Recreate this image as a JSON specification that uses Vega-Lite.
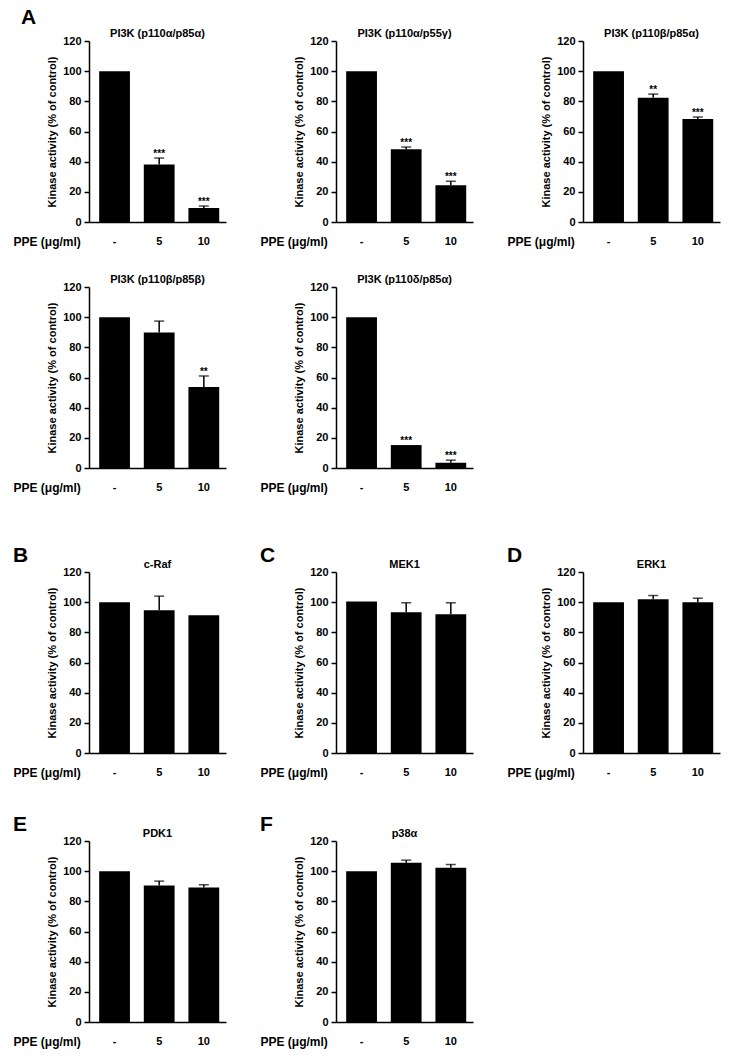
{
"$schema":"https://vega.github.io/schema/vega-lite/v6.json",
"padding":{"left":13,"top":7,"right":5,"bottom":5},
"data":{"values":[
{"panel":"A1","dose":"-","value":100,"upper":100,"sig":""},
{"panel":"A1","dose":"5","value":38.2,"upper":42.4,"sig":"***"},
{"panel":"A1","dose":"10","value":9.3,"upper":10.6,"sig":"***"},
{"panel":"A2","dose":"-","value":100,"upper":100,"sig":""},
{"panel":"A2","dose":"5","value":48.2,"upper":49.7,"sig":"***"},
{"panel":"A2","dose":"10","value":24.3,"upper":27,"sig":"***"},
{"panel":"A3","dose":"-","value":100,"upper":100,"sig":""},
{"panel":"A3","dose":"5","value":82.3,"upper":84.8,"sig":"**"},
{"panel":"A3","dose":"10","value":68.3,"upper":69.6,"sig":"***"},
{"panel":"A4","dose":"-","value":100,"upper":100,"sig":""},
{"panel":"A4","dose":"5","value":89.8,"upper":97.4,"sig":""},
{"panel":"A4","dose":"10","value":53.7,"upper":61,"sig":"**"},
{"panel":"A5","dose":"-","value":100,"upper":100,"sig":""},
{"panel":"A5","dose":"5","value":15.2,"upper":15.2,"sig":"***"},
{"panel":"A5","dose":"10","value":3.5,"upper":5.2,"sig":"***"},
{"panel":"B","dose":"-","value":100,"upper":100,"sig":""},
{"panel":"B","dose":"5","value":94.7,"upper":104,"sig":""},
{"panel":"B","dose":"10","value":91.3,"upper":91.3,"sig":""},
{"panel":"C","dose":"-","value":100.5,"upper":100.5,"sig":""},
{"panel":"C","dose":"5","value":93.3,"upper":99.6,"sig":""},
{"panel":"C","dose":"10","value":92,"upper":99.6,"sig":""},
{"panel":"D","dose":"-","value":100,"upper":100,"sig":""},
{"panel":"D","dose":"5","value":102,"upper":104.4,"sig":""},
{"panel":"D","dose":"10","value":100,"upper":102.6,"sig":""},
{"panel":"E","dose":"-","value":100,"upper":100,"sig":""},
{"panel":"E","dose":"5","value":90.5,"upper":93.4,"sig":""},
{"panel":"E","dose":"10","value":89.2,"upper":91,"sig":""},
{"panel":"F","dose":"-","value":100,"upper":100,"sig":""},
{"panel":"F","dose":"5","value":105.5,"upper":107.3,"sig":""},
{"panel":"F","dose":"10","value":102.2,"upper":104.4,"sig":""}
]},
"spacing":52,
"vconcat":[
{"spacing":27,"vconcat":[
{"title":{"text":"A","anchor":"start","fontSize":21,"offset":0,"dx":8},"spacing":34,"hconcat":[
{"width":137,"height":181,"title":"PI3K (p110α/p85α)","transform":[{"filter":"datum.panel === 'A1'"}],
"encoding":{"x":{"field":"dose","type":"nominal","sort":["-","5","10"],"title":"PPE (μg/ml)","scale":{"paddingInner":0.31,"paddingOuter":0.19,"align":0.6}}},
"layer":[
{"mark":{"type":"bar","color":"black"},"encoding":{"y":{"field":"value","type":"quantitative","title":"Kinase activity (% of control)","scale":{"domain":[0,120],"nice":false}}}},
{"transform":[{"filter":"datum.upper > datum.value"}],"mark":{"type":"rule","color":"black","strokeWidth":1.5},"encoding":{"y":{"field":"value","type":"quantitative","title":"Kinase activity (% of control)","scale":{"domain":[0,120],"nice":false}},"y2":{"field":"upper"}}},
{"transform":[{"filter":"datum.upper > datum.value"}],"mark":{"type":"tick","color":"black","thickness":1.5,"size":10},"encoding":{"y":{"field":"upper","type":"quantitative","title":"Kinase activity (% of control)","scale":{"domain":[0,120],"nice":false}}}},
{"transform":[{"filter":"datum.sig !== ''"}],"mark":{"type":"text","fontSize":10,"fontWeight":"bold","dy":-4,"baseline":"middle","color":"black"},"encoding":{"y":{"field":"upper","type":"quantitative","title":"Kinase activity (% of control)","scale":{"domain":[0,120],"nice":false}},"text":{"field":"sig"}}}
]},
{"width":137,"height":181,"title":"PI3K (p110α/p55γ)","transform":[{"filter":"datum.panel === 'A2'"}],
"encoding":{"x":{"field":"dose","type":"nominal","sort":["-","5","10"],"title":"PPE (μg/ml)","scale":{"paddingInner":0.31,"paddingOuter":0.19,"align":0.6}}},
"layer":[
{"mark":{"type":"bar","color":"black"},"encoding":{"y":{"field":"value","type":"quantitative","title":"Kinase activity (% of control)","scale":{"domain":[0,120],"nice":false}}}},
{"transform":[{"filter":"datum.upper > datum.value"}],"mark":{"type":"rule","color":"black","strokeWidth":1.5},"encoding":{"y":{"field":"value","type":"quantitative","title":"Kinase activity (% of control)","scale":{"domain":[0,120],"nice":false}},"y2":{"field":"upper"}}},
{"transform":[{"filter":"datum.upper > datum.value"}],"mark":{"type":"tick","color":"black","thickness":1.5,"size":10},"encoding":{"y":{"field":"upper","type":"quantitative","title":"Kinase activity (% of control)","scale":{"domain":[0,120],"nice":false}}}},
{"transform":[{"filter":"datum.sig !== ''"}],"mark":{"type":"text","fontSize":10,"fontWeight":"bold","dy":-4,"baseline":"middle","color":"black"},"encoding":{"y":{"field":"upper","type":"quantitative","title":"Kinase activity (% of control)","scale":{"domain":[0,120],"nice":false}},"text":{"field":"sig"}}}
]},
{"width":137,"height":181,"title":"PI3K (p110β/p85α)","transform":[{"filter":"datum.panel === 'A3'"}],
"encoding":{"x":{"field":"dose","type":"nominal","sort":["-","5","10"],"title":"PPE (μg/ml)","scale":{"paddingInner":0.31,"paddingOuter":0.19,"align":0.6}}},
"layer":[
{"mark":{"type":"bar","color":"black"},"encoding":{"y":{"field":"value","type":"quantitative","title":"Kinase activity (% of control)","scale":{"domain":[0,120],"nice":false}}}},
{"transform":[{"filter":"datum.upper > datum.value"}],"mark":{"type":"rule","color":"black","strokeWidth":1.5},"encoding":{"y":{"field":"value","type":"quantitative","title":"Kinase activity (% of control)","scale":{"domain":[0,120],"nice":false}},"y2":{"field":"upper"}}},
{"transform":[{"filter":"datum.upper > datum.value"}],"mark":{"type":"tick","color":"black","thickness":1.5,"size":10},"encoding":{"y":{"field":"upper","type":"quantitative","title":"Kinase activity (% of control)","scale":{"domain":[0,120],"nice":false}}}},
{"transform":[{"filter":"datum.sig !== ''"}],"mark":{"type":"text","fontSize":10,"fontWeight":"bold","dy":-4,"baseline":"middle","color":"black"},"encoding":{"y":{"field":"upper","type":"quantitative","title":"Kinase activity (% of control)","scale":{"domain":[0,120],"nice":false}},"text":{"field":"sig"}}}
]}
]},
{"spacing":34,"hconcat":[
{"width":137,"height":181,"title":"PI3K (p110β/p85β)","transform":[{"filter":"datum.panel === 'A4'"}],
"encoding":{"x":{"field":"dose","type":"nominal","sort":["-","5","10"],"title":"PPE (μg/ml)","scale":{"paddingInner":0.31,"paddingOuter":0.19,"align":0.6}}},
"layer":[
{"mark":{"type":"bar","color":"black"},"encoding":{"y":{"field":"value","type":"quantitative","title":"Kinase activity (% of control)","scale":{"domain":[0,120],"nice":false}}}},
{"transform":[{"filter":"datum.upper > datum.value"}],"mark":{"type":"rule","color":"black","strokeWidth":1.5},"encoding":{"y":{"field":"value","type":"quantitative","title":"Kinase activity (% of control)","scale":{"domain":[0,120],"nice":false}},"y2":{"field":"upper"}}},
{"transform":[{"filter":"datum.upper > datum.value"}],"mark":{"type":"tick","color":"black","thickness":1.5,"size":10},"encoding":{"y":{"field":"upper","type":"quantitative","title":"Kinase activity (% of control)","scale":{"domain":[0,120],"nice":false}}}},
{"transform":[{"filter":"datum.sig !== ''"}],"mark":{"type":"text","fontSize":10,"fontWeight":"bold","dy":-4,"baseline":"middle","color":"black"},"encoding":{"y":{"field":"upper","type":"quantitative","title":"Kinase activity (% of control)","scale":{"domain":[0,120],"nice":false}},"text":{"field":"sig"}}}
]},
{"width":137,"height":181,"title":"PI3K (p110δ/p85α)","transform":[{"filter":"datum.panel === 'A5'"}],
"encoding":{"x":{"field":"dose","type":"nominal","sort":["-","5","10"],"title":"PPE (μg/ml)","scale":{"paddingInner":0.31,"paddingOuter":0.19,"align":0.6}}},
"layer":[
{"mark":{"type":"bar","color":"black"},"encoding":{"y":{"field":"value","type":"quantitative","title":"Kinase activity (% of control)","scale":{"domain":[0,120],"nice":false}}}},
{"transform":[{"filter":"datum.upper > datum.value"}],"mark":{"type":"rule","color":"black","strokeWidth":1.5},"encoding":{"y":{"field":"value","type":"quantitative","title":"Kinase activity (% of control)","scale":{"domain":[0,120],"nice":false}},"y2":{"field":"upper"}}},
{"transform":[{"filter":"datum.upper > datum.value"}],"mark":{"type":"tick","color":"black","thickness":1.5,"size":10},"encoding":{"y":{"field":"upper","type":"quantitative","title":"Kinase activity (% of control)","scale":{"domain":[0,120],"nice":false}}}},
{"transform":[{"filter":"datum.sig !== ''"}],"mark":{"type":"text","fontSize":10,"fontWeight":"bold","dy":-4,"baseline":"middle","color":"black"},"encoding":{"y":{"field":"upper","type":"quantitative","title":"Kinase activity (% of control)","scale":{"domain":[0,120],"nice":false}},"text":{"field":"sig"}}}
]}
]}
]},
{"spacing":36,"vconcat":[
{"spacing":34,"hconcat":[
{"title":{"text":"B","anchor":"start","fontSize":21,"offset":-7},"vconcat":[
{"width":137,"height":181,"title":"c-Raf","transform":[{"filter":"datum.panel === 'B'"}],
"encoding":{"x":{"field":"dose","type":"nominal","sort":["-","5","10"],"title":"PPE (μg/ml)","scale":{"paddingInner":0.31,"paddingOuter":0.19,"align":0.6}}},
"layer":[
{"mark":{"type":"bar","color":"black"},"encoding":{"y":{"field":"value","type":"quantitative","title":"Kinase activity (% of control)","scale":{"domain":[0,120],"nice":false}}}},
{"transform":[{"filter":"datum.upper > datum.value"}],"mark":{"type":"rule","color":"black","strokeWidth":1.5},"encoding":{"y":{"field":"value","type":"quantitative","title":"Kinase activity (% of control)","scale":{"domain":[0,120],"nice":false}},"y2":{"field":"upper"}}},
{"transform":[{"filter":"datum.upper > datum.value"}],"mark":{"type":"tick","color":"black","thickness":1.5,"size":10},"encoding":{"y":{"field":"upper","type":"quantitative","title":"Kinase activity (% of control)","scale":{"domain":[0,120],"nice":false}}}}
]}]},
{"title":{"text":"C","anchor":"start","fontSize":21,"offset":-7},"vconcat":[
{"width":137,"height":181,"title":"MEK1","transform":[{"filter":"datum.panel === 'C'"}],
"encoding":{"x":{"field":"dose","type":"nominal","sort":["-","5","10"],"title":"PPE (μg/ml)","scale":{"paddingInner":0.31,"paddingOuter":0.19,"align":0.6}}},
"layer":[
{"mark":{"type":"bar","color":"black"},"encoding":{"y":{"field":"value","type":"quantitative","title":"Kinase activity (% of control)","scale":{"domain":[0,120],"nice":false}}}},
{"transform":[{"filter":"datum.upper > datum.value"}],"mark":{"type":"rule","color":"black","strokeWidth":1.5},"encoding":{"y":{"field":"value","type":"quantitative","title":"Kinase activity (% of control)","scale":{"domain":[0,120],"nice":false}},"y2":{"field":"upper"}}},
{"transform":[{"filter":"datum.upper > datum.value"}],"mark":{"type":"tick","color":"black","thickness":1.5,"size":10},"encoding":{"y":{"field":"upper","type":"quantitative","title":"Kinase activity (% of control)","scale":{"domain":[0,120],"nice":false}}}}
]}]},
{"title":{"text":"D","anchor":"start","fontSize":21,"offset":-7},"vconcat":[
{"width":137,"height":181,"title":"ERK1","transform":[{"filter":"datum.panel === 'D'"}],
"encoding":{"x":{"field":"dose","type":"nominal","sort":["-","5","10"],"title":"PPE (μg/ml)","scale":{"paddingInner":0.31,"paddingOuter":0.19,"align":0.6}}},
"layer":[
{"mark":{"type":"bar","color":"black"},"encoding":{"y":{"field":"value","type":"quantitative","title":"Kinase activity (% of control)","scale":{"domain":[0,120],"nice":false}}}},
{"transform":[{"filter":"datum.upper > datum.value"}],"mark":{"type":"rule","color":"black","strokeWidth":1.5},"encoding":{"y":{"field":"value","type":"quantitative","title":"Kinase activity (% of control)","scale":{"domain":[0,120],"nice":false}},"y2":{"field":"upper"}}},
{"transform":[{"filter":"datum.upper > datum.value"}],"mark":{"type":"tick","color":"black","thickness":1.5,"size":10},"encoding":{"y":{"field":"upper","type":"quantitative","title":"Kinase activity (% of control)","scale":{"domain":[0,120],"nice":false}}}}
]}]}
]},
{"spacing":34,"hconcat":[
{"title":{"text":"E","anchor":"start","fontSize":21,"offset":-7},"vconcat":[
{"width":137,"height":181,"title":"PDK1","transform":[{"filter":"datum.panel === 'E'"}],
"encoding":{"x":{"field":"dose","type":"nominal","sort":["-","5","10"],"title":"PPE (μg/ml)","scale":{"paddingInner":0.31,"paddingOuter":0.19,"align":0.6}}},
"layer":[
{"mark":{"type":"bar","color":"black"},"encoding":{"y":{"field":"value","type":"quantitative","title":"Kinase activity (% of control)","scale":{"domain":[0,120],"nice":false}}}},
{"transform":[{"filter":"datum.upper > datum.value"}],"mark":{"type":"rule","color":"black","strokeWidth":1.5},"encoding":{"y":{"field":"value","type":"quantitative","title":"Kinase activity (% of control)","scale":{"domain":[0,120],"nice":false}},"y2":{"field":"upper"}}},
{"transform":[{"filter":"datum.upper > datum.value"}],"mark":{"type":"tick","color":"black","thickness":1.5,"size":10},"encoding":{"y":{"field":"upper","type":"quantitative","title":"Kinase activity (% of control)","scale":{"domain":[0,120],"nice":false}}}}
]}]},
{"title":{"text":"F","anchor":"start","fontSize":21,"offset":-7},"vconcat":[
{"width":137,"height":181,"title":"p38α","transform":[{"filter":"datum.panel === 'F'"}],
"encoding":{"x":{"field":"dose","type":"nominal","sort":["-","5","10"],"title":"PPE (μg/ml)","scale":{"paddingInner":0.31,"paddingOuter":0.19,"align":0.6}}},
"layer":[
{"mark":{"type":"bar","color":"black"},"encoding":{"y":{"field":"value","type":"quantitative","title":"Kinase activity (% of control)","scale":{"domain":[0,120],"nice":false}}}},
{"transform":[{"filter":"datum.upper > datum.value"}],"mark":{"type":"rule","color":"black","strokeWidth":1.5},"encoding":{"y":{"field":"value","type":"quantitative","title":"Kinase activity (% of control)","scale":{"domain":[0,120],"nice":false}},"y2":{"field":"upper"}}},
{"transform":[{"filter":"datum.upper > datum.value"}],"mark":{"type":"tick","color":"black","thickness":1.5,"size":10},"encoding":{"y":{"field":"upper","type":"quantitative","title":"Kinase activity (% of control)","scale":{"domain":[0,120],"nice":false}}}}
]}]}
]}
]}
],
"config":{
"font":"Liberation Sans",
"view":{"stroke":null},
"axis":{"domainColor":"black","domainWidth":1.5,"labelColor":"black","labelFont":"Liberation Sans","labelFontWeight":"bold","labelFontSize":11,"titleColor":"black","titleFont":"Liberation Sans","titleFontWeight":"bold","grid":false},
"axisX":{"labelAngle":0,"ticks":false,"labelPadding":13,"titleAngle":0,"titleAlign":"left","titleBaseline":"middle","titleX":-76,"titleY":19,"titleFontSize":12},
"axisY":{"tickCount":7,"tickColor":"black","tickWidth":1.5,"tickSize":5,"labelPadding":3,"titleFontSize":11,"titlePadding":5},
"title":{"font":"Liberation Sans","fontSize":11,"fontWeight":"bold","color":"black","offset":-4}
}
}
